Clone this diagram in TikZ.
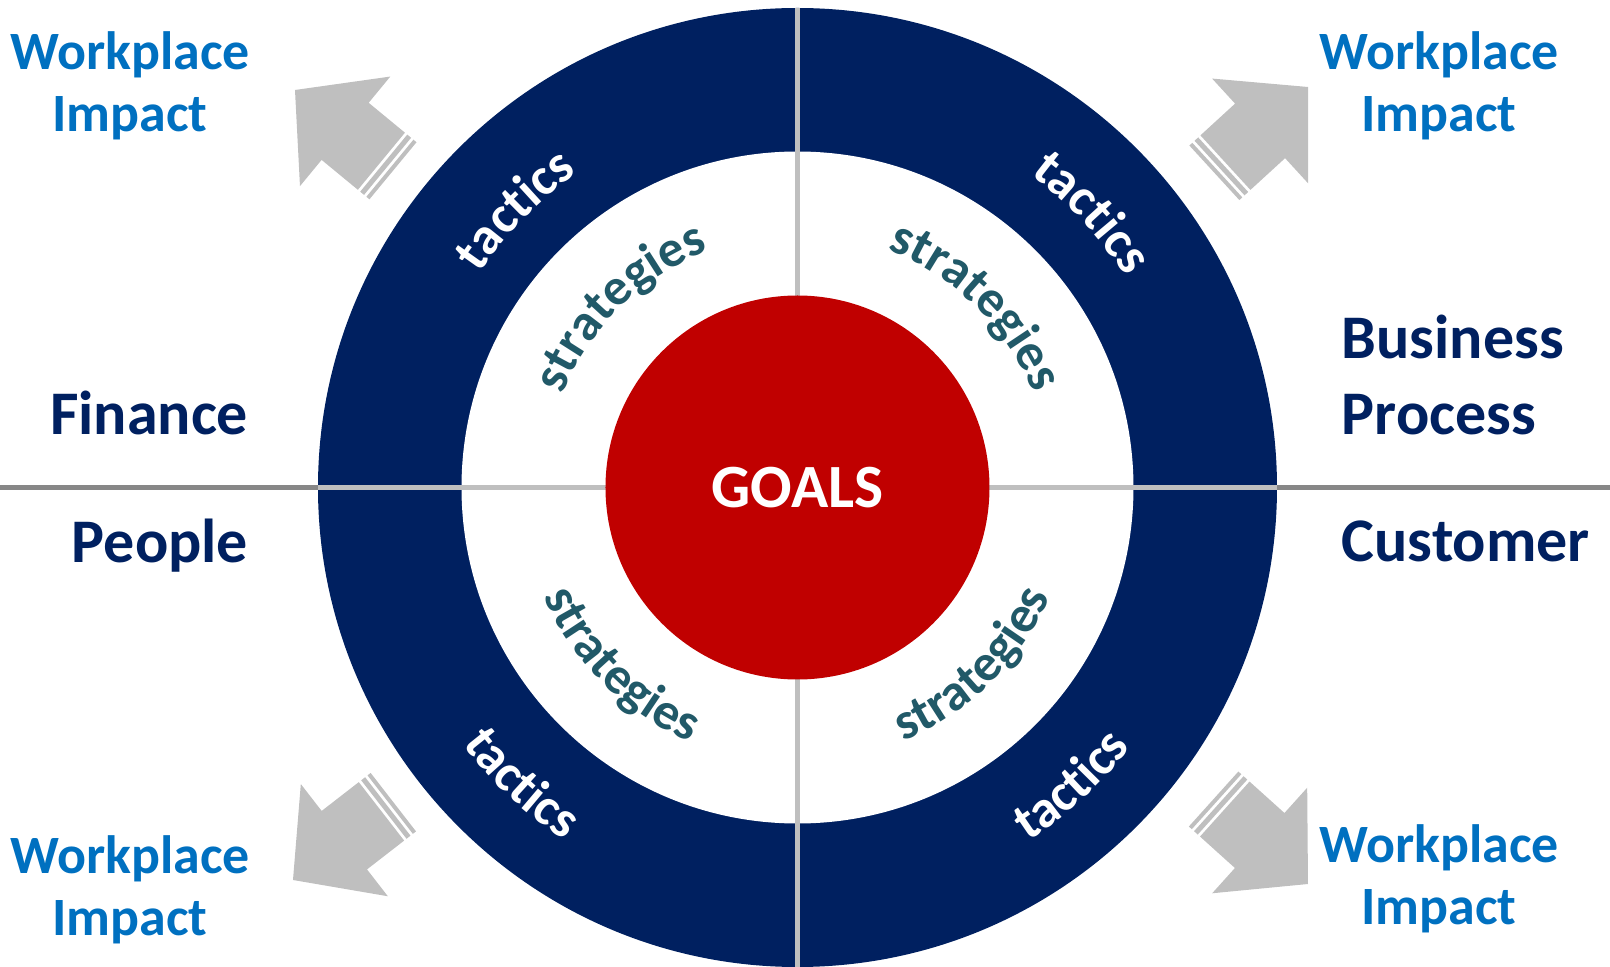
\documentclass[tikz,border=0pt]{standalone}
\usepackage{fontspec}
\setmainfont{Carlito}
\usetikzlibrary{positioning, calc, decorations.text}
\definecolor{darkblue}{HTML}{002060}
\definecolor{goalred}{HTML}{C00000}
\definecolor{impactblue}{HTML}{0070C0}
\definecolor{stratteal}{HTML}{215968}
\definecolor{arrowgray}{HTML}{BFBFBF}
\definecolor{axisgray}{HTML}{878787}

\begin{document}
\begin{tikzpicture}[
        ring/.style={circle, fill=darkblue, minimum size=19.18cm, inner sep=0pt, outer sep=0pt},
        whitedisc/.style={circle, fill=white, minimum size=13.44cm, inner sep=0pt, outer sep=0pt},
        goal/.style={circle, fill=goalred, minimum size=7.68cm, inner sep=0pt, outer sep=0pt, text=white, font=\fontsize{35}{40}\selectfont\bfseries},
        impact/.style={align=center, text=impactblue, inner sep=0pt, font=\fontsize{30.7}{35.3}\selectfont\bfseries},
        kpilabel/.style={text=darkblue, inner sep=0pt, font=\fontsize{35.3}{43.8}\selectfont\bfseries},
        divin/.style={draw=arrowgray, line width=3pt},
        divout/.style={draw=axisgray, line width=3.4pt},
        bigarrow/.style={fill=arrowgray},
        tacticstext/.style={decorate, decoration={text along path, text align=center, text color=white,
            text={|\fontsize{30}{32}\selectfont\bfseries|tactics}}},
        strattext/.style={decorate, decoration={text along path, text align=center, text color=stratteal,
            text={|\fontsize{29.5}{32}\selectfont\bfseries|strategies}}},
    ]
    \useasboundingbox (-15.95,-9.59) rectangle (16.25,9.75);

    % ===== Rings =====
    \node[ring] (ring) at (0,0) {};
    \node[whitedisc] (disc) at (0,0) {};

    % ===== Quadrant dividers =====
    \coordinate (leftedge) at (-15.95,0);
    \coordinate (rightedge) at (16.25,0);
    \draw[divin] (ring.west) -- (ring.east);
    \draw[divin] (ring.north) -- (ring.south);
    \draw[divout] (leftedge) -- (ring.west);
    \draw[divout] (ring.east) -- (rightedge);

    % ===== Goals =====
    \node[goal] (goals) at (0,0) {GOALS};

    % ===== Curved texts: upper half clockwise, lower half counter-clockwise =====
    \foreach \c/\r in {135.5/7.67, 43/7.80} {
        \path[tacticstext] ({\c+30}:\r) arc[start angle={\c+30}, end angle={\c-30}, radius=\r];
    }
    \foreach \c/\r in {-133/8.45, -47.4/8.45} {
        \path[tacticstext] ({\c-30}:\r) arc[start angle={\c-30}, end angle={\c+30}, radius=\r];
    }
    \foreach \c/\r in {134.5/5.05, 45.5/5.08} {
        \path[strattext] ({\c+40}:\r) arc[start angle={\c+40}, end angle={\c-40}, radius=\r];
    }
    \foreach \c/\r in {-134.8/5.52, -45.3/5.50} {
        \path[strattext] ({\c-40}:\r) arc[start angle={\c-40}, end angle={\c+40}, radius=\r];
    }

    % ===== Striped arrows =====
    \foreach \tx/\ty/\ang in {-10.05/7.95/140.5, 10.21/8.01/42.5, -10.09/-7.85/217.8, 10.21/-7.93/-42} {
        \begin{scope}[shift={(\tx,\ty)}, rotate=\ang]
            \fill[bigarrow] (0,0) -- (-1.3,1.42) -- (-1.3,0.74) -- (-2.24,0.74) -- (-2.24,-0.74)
                -- (-1.3,-0.74) -- (-1.3,-1.42) -- cycle;
            \fill[bigarrow] (-2.30,0.74) rectangle (-2.40,-0.74);
            \fill[bigarrow] (-2.46,0.74) rectangle (-2.54,-0.74);
        \end{scope}
    }

    % ===== Labels =====
    \node[impact] (wpTL) at (-13.35,8.03) {Workplace\\Impact};
    \node[impact] (wpTR) at (12.83,8.03) {Workplace\\Impact};
    \node[impact] (wpBL) at (-13.35,-8.05) {Workplace\\Impact};
    \node[impact] (wpBR) at (12.83,-7.83) {Workplace\\Impact};

    \node[kpilabel, anchor=base east] (finance) at (-10.98,1.05) {Finance};
    \node[kpilabel, anchor=base east] (people) at (-10.98,-1.51) {People};
    \node[kpilabel, align=left, anchor=base west] (business) at (10.88,1.05) {Business\\Process};
    \node[kpilabel, anchor=base west] (customer) at (10.88,-1.48) {Customer};

\end{tikzpicture}
\end{document}
